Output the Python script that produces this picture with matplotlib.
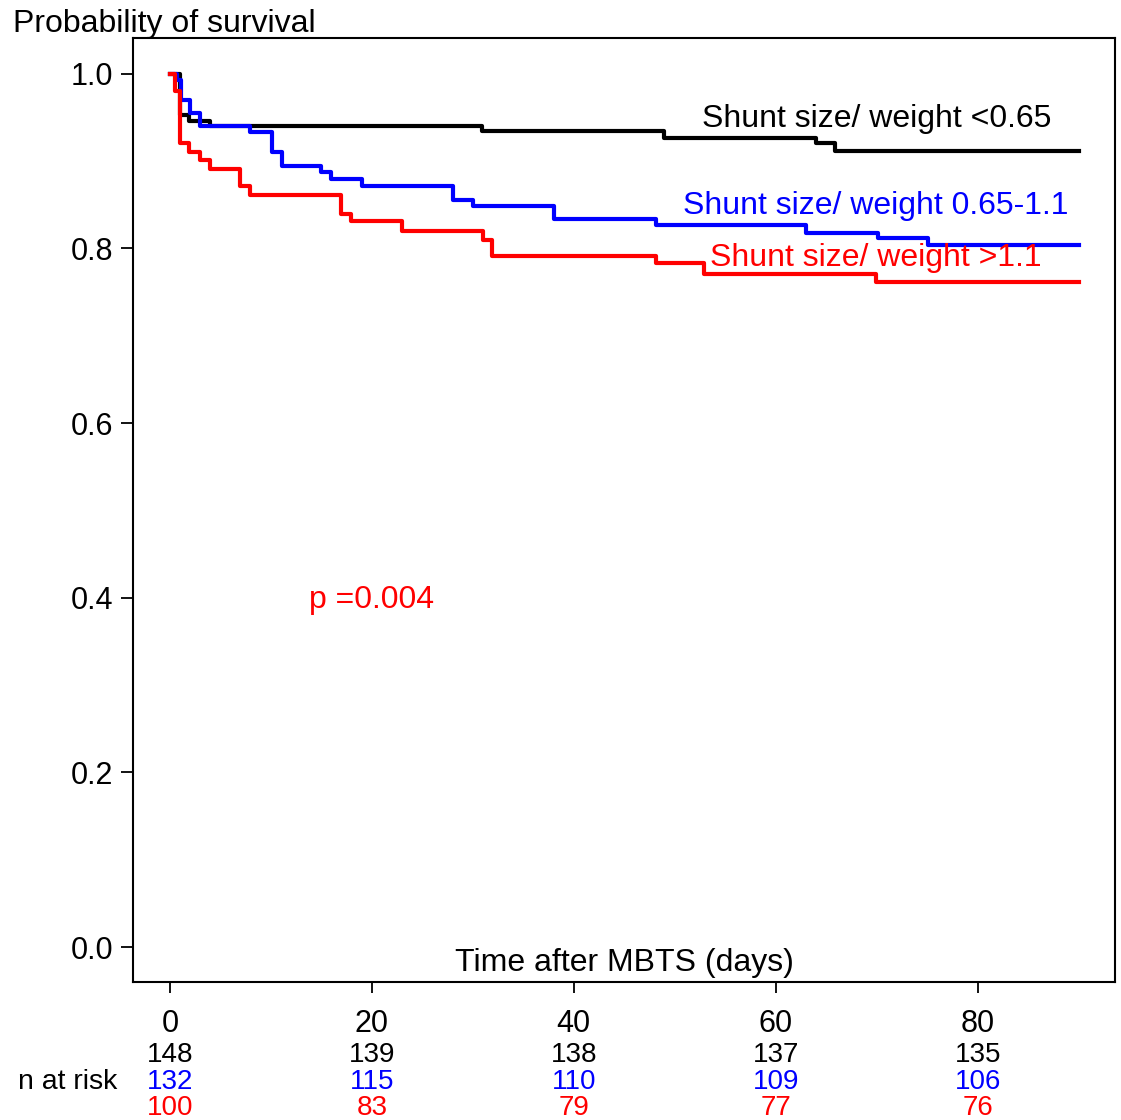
import matplotlib
matplotlib.use("Agg")
import matplotlib.pyplot as plt
import matplotlib.transforms as mtransforms

plt.rcParams["font.family"] = ["Liberation Sans", "DejaVu Sans"]

# Kaplan-Meier step data (time in days, survival probability)
t_low = [0, 1.0, 1.9, 4.0, 30.9, 48.9, 64.0, 65.9, 90]
s_low = [1.0, 0.953, 0.946, 0.940, 0.934, 0.926, 0.921, 0.912, 0.912]

t_mid = [0, 0.66, 1.07, 2.0, 3.0, 7.9, 10.1, 11.1, 15.0, 16.0, 19.0, 28.0,
         30.0, 38.0, 48.1, 63.0, 70.1, 75.1, 90]
s_mid = [1.0, 0.993, 0.970, 0.955, 0.940, 0.933, 0.910, 0.894, 0.887,
         0.879, 0.872, 0.856, 0.849, 0.834, 0.827, 0.818, 0.812, 0.804, 0.804]

t_high = [0, 0.5, 1.0, 1.9, 3.0, 4.0, 6.9, 7.9, 16.9, 17.9, 23.0, 31.0,
          31.9, 48.1, 52.9, 69.9, 90]
s_high = [1.0, 0.980, 0.921, 0.910, 0.901, 0.891, 0.871, 0.861, 0.840,
          0.831, 0.820, 0.810, 0.791, 0.783, 0.771, 0.761, 0.761]

risk_times = [0, 20, 40, 60, 80]
risk_low = [148, 139, 138, 137, 135]
risk_mid = [132, 115, 110, 109, 106]
risk_high = [100, 83, 79, 77, 76]

BLACK, BLUE, RED = "black", "#0000ff", "#ff0000"

fig = plt.figure(figsize=(11.21, 11.20), dpi=100)
ax = fig.add_axes([0.1186, 0.1232, 0.876, 0.8429])

ax.step(t_low, s_low, where="post", color=BLACK, lw=3)
ax.step(t_mid, s_mid, where="post", color=BLUE, lw=3)
ax.step(t_high, s_high, where="post", color=RED, lw=3)

ax.set_xlim(-3.66, 93.6)
ax.set_ylim(-0.04, 1.041)
ax.set_yticks([0.0, 0.2, 0.4, 0.6, 0.8, 1.0])
ax.set_yticklabels(["0.0", "0.2", "0.4", "0.6", "0.8", "1.0"])
ax.set_xticks(risk_times)
ax.set_xticklabels([str(t) for t in risk_times])
ax.tick_params(axis="y", length=9, width=1.3, pad=5, labelsize=22)
ax.tick_params(axis="x", length=8, width=1.3, pad=11.5, labelsize=22)
for sp in ax.spines.values():
    sp.set_linewidth(1.5)

# labels
ax.text(52.7, 0.9485, "Shunt size/ weight <0.65", color=BLACK, fontsize=23,
        ha="left", va="center")
ax.text(50.8, 0.8485, "Shunt size/ weight 0.65-1.1", color=BLUE, fontsize=23,
        ha="left", va="center")
ax.text(53.5, 0.7895, "Shunt size/ weight >1.1", color=RED, fontsize=23,
        ha="left", va="center")
ax.text(13.8, 0.3975, "p =0.004", color=RED, fontsize=23, ha="left", va="center")
ax.text(45.0, -0.0185, "Time after MBTS (days)", color=BLACK, fontsize=23,
        ha="center", va="center")
fig.text(0.0116, 0.979, "Probability of survival", fontsize=23,
         ha="left", va="center")

# numbers at risk
trans = mtransforms.blended_transform_factory(ax.transData, fig.transFigure)
rows = [(risk_low, BLACK, 0.058), (risk_mid, BLUE, 0.0339), (risk_high, RED, 0.0107)]
for vals, col, yy in rows:
    for t, v in zip(risk_times, vals):
        ax.text(t, yy, str(v), color=col, fontsize=20, ha="center",
                va="center", transform=trans, clip_on=False)
fig.text(0.016, 0.0339, "n at risk", fontsize=20.5, ha="left", va="center")

fig.savefig("out.png", dpi=100)
